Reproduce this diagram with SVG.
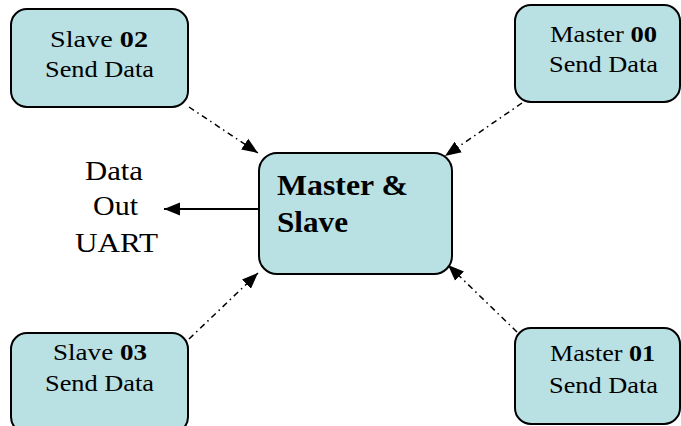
<svg xmlns="http://www.w3.org/2000/svg" width="681" height="426" viewBox="0 0 681 426">
<style>
.box{fill:#b9e0e3;stroke:#000;stroke-width:2}
.t{font-family:"Liberation Serif","Times New Roman",serif;font-size:23px;fill:#000}
.c{font-size:30px;font-weight:bold}
.u{font-size:28px}
.b{font-weight:bold}
.dd{stroke:#000;stroke-width:1.5;fill:none;stroke-dasharray:6 4 1.5 4}
.sl{stroke:#000;stroke-width:1.8;fill:none}
</style>
<defs>
<marker id="ah" viewBox="0 0 10 10" refX="10" refY="5" markerWidth="16" markerHeight="16" markerUnits="userSpaceOnUse" orient="auto">
<path d="M0,1 L10,5 L0,9 z" fill="#000"/>
</marker>
</defs>
<g id="connectors">
<line class="dd" x1="189" y1="107" x2="258" y2="153" marker-end="url(#ah)"/>
<line class="dd" x1="522" y1="103" x2="445" y2="156" marker-end="url(#ah)"/>
<line class="dd" x1="189" y1="339" x2="258" y2="273" marker-end="url(#ah)"/>
<line class="dd" x1="517" y1="332" x2="448" y2="265" marker-end="url(#ah)"/>
<line class="sl" x1="259" y1="209" x2="164" y2="209" marker-end="url(#ah)"/>
</g>
<g id="slave02">
<rect class="box" x="11" y="9" width="177" height="98" rx="16"/>
<text class="t" x="50" y="47" textLength="98" lengthAdjust="spacingAndGlyphs">Slave  <tspan class="b">02</tspan></text>
<text class="t" x="45" y="77" textLength="109" lengthAdjust="spacingAndGlyphs">Send Data</text>
</g>
<g id="master00">
<rect class="box" x="515" y="5" width="165" height="97" rx="16"/>
<text class="t" x="550" y="42" textLength="107" lengthAdjust="spacingAndGlyphs">Master <tspan class="b">00</tspan></text>
<text class="t" x="549" y="72" textLength="109" lengthAdjust="spacingAndGlyphs">Send Data</text>
</g>
<g id="center">
<rect class="box" x="259" y="153" width="193" height="121" rx="18"/>
<text class="t c" x="277" y="195" textLength="131" lengthAdjust="spacingAndGlyphs">Master &amp;</text>
<text class="t c" x="277" y="232" textLength="71" lengthAdjust="spacingAndGlyphs">Slave</text>
</g>
<g id="uart">
<text class="t u" x="85" y="180" textLength="58" lengthAdjust="spacingAndGlyphs">Data</text>
<text class="t u" x="93" y="215" textLength="45" lengthAdjust="spacingAndGlyphs">Out</text>
<text class="t u" x="75" y="252" textLength="83" lengthAdjust="spacingAndGlyphs">UART</text>
</g>
<g id="slave03">
<rect class="box" x="11" y="333" width="177" height="100" rx="16"/>
<text class="t" x="53" y="360" textLength="94" lengthAdjust="spacingAndGlyphs">Slave <tspan class="b">03</tspan></text>
<text class="t" x="45" y="391" textLength="109" lengthAdjust="spacingAndGlyphs">Send Data</text>
</g>
<g id="master01">
<rect class="box" x="515" y="328" width="165" height="96" rx="16"/>
<text class="t" x="550" y="361" textLength="105" lengthAdjust="spacingAndGlyphs">Master <tspan class="b">01</tspan></text>
<text class="t" x="549" y="393" textLength="109" lengthAdjust="spacingAndGlyphs">Send Data</text>
</g>
</svg>
